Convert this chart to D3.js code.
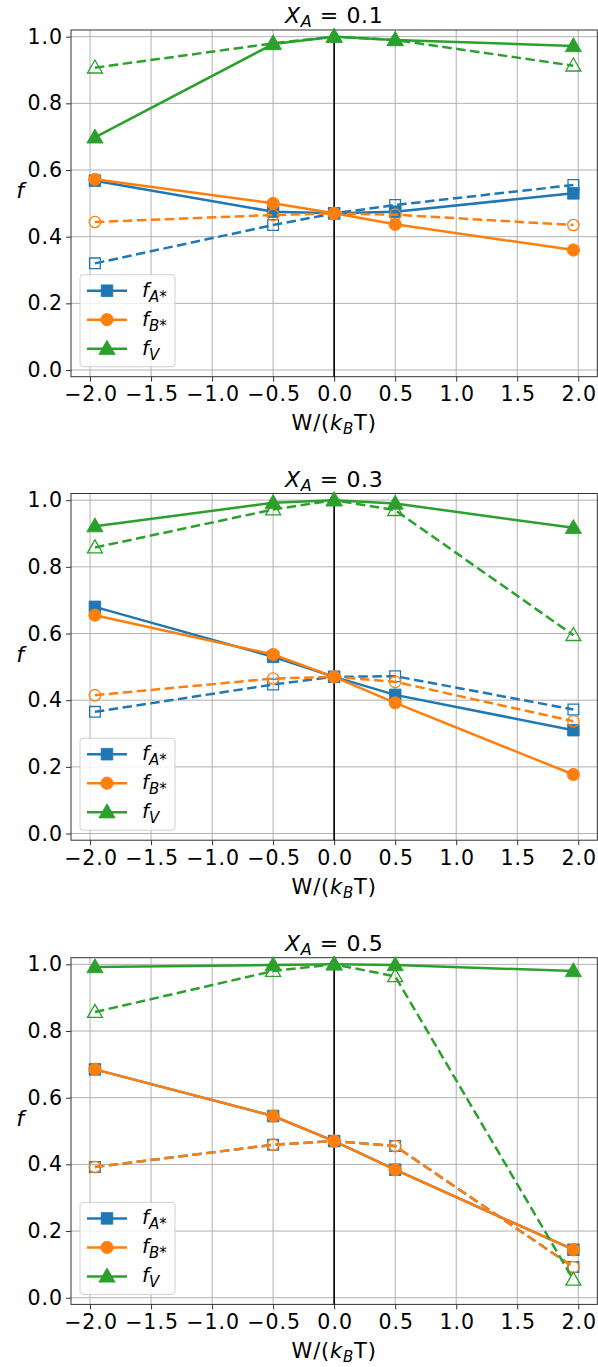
<!DOCTYPE html>
<html><head><meta charset="utf-8">
<script src="https://cdn.jsdelivr.net/npm/d3@7"></script>
<style>body{margin:0;background:#fff}svg{display:block;font-family:"DejaVu Sans",sans-serif}</style>
</head><body><svg id="c" width="598" height="1367"></svg>
<script>
const xValues = [-1.96, -0.5, 0, 0.5, 1.96];
const panelTitles = ["0.1", "0.3", "0.5"];
const xTicks = [-2.0, -1.5, -1.0, -0.5, 0.0, 0.5, 1.0, 1.5, 2.0];
const yTicks = [0.0, 0.2, 0.4, 0.6, 0.8, 1.0];

// Panel X_A = 0.1
const p1_A_solid = [0.568, 0.475, 0.47, 0.475, 0.53];
const p1_A_dash  = [0.32, 0.435, 0.47, 0.495, 0.555];
const p1_B_solid = [0.572, 0.50, 0.47, 0.437, 0.36];
const p1_B_dash  = [0.444, 0.465, 0.47, 0.466, 0.435];
const p1_V_solid = [0.698, 0.978, 1.0, 0.99, 0.972];
const p1_V_dash  = [0.907, 0.98, 1.0, 0.99, 0.913];
// Panel X_A = 0.3
const p2_A_solid = [0.68, 0.53, 0.47, 0.416, 0.31];
const p2_A_dash  = [0.365, 0.447, 0.47, 0.472, 0.372];
const p2_B_solid = [0.655, 0.537, 0.47, 0.392, 0.177];
const p2_B_dash  = [0.415, 0.465, 0.47, 0.455, 0.337];
const p2_V_solid = [0.922, 0.992, 1.0, 0.99, 0.917];
const p2_V_dash  = [0.858, 0.972, 1.0, 0.97, 0.595];
// Panel X_A = 0.5
const p3_A_solid = [0.685, 0.545, 0.47, 0.384, 0.144];
const p3_A_dash  = [0.392, 0.459, 0.47, 0.455, 0.092];
const p3_B_solid = [0.685, 0.545, 0.47, 0.384, 0.144];
const p3_B_dash  = [0.392, 0.459, 0.47, 0.455, 0.092];
const p3_V_solid = [0.992, 0.998, 1.0, 0.998, 0.98];
const p3_V_dash  = [0.857, 0.98, 1.0, 0.964, 0.054];

const panels = [
  {A:[p1_A_solid,p1_A_dash], B:[p1_B_solid,p1_B_dash], V:[p1_V_solid,p1_V_dash]},
  {A:[p2_A_solid,p2_A_dash], B:[p2_B_solid,p2_B_dash], V:[p2_V_solid,p2_V_dash]},
  {A:[p3_A_solid,p3_A_dash], B:[p3_B_solid,p3_B_dash], V:[p3_V_solid,p3_V_dash]}
];
const colors = {A:"#1f77b4", B:"#ff7f0e", V:"#2ca02c"};
const symbols = {A:d3.symbolSquare, B:d3.symbolCircle, V:d3.symbolTriangle};
const symSize = {A:135, B:120, V:115};

const svg = d3.select("#c");
const L = 71, R = 597.3, H = 346.7;
const tops = [30, 493.5, 957.7];
const x = d3.scaleLinear().domain([-2.156, 2.156]).range([L, R]);

tops.forEach((top, pi) => {
  const y = d3.scaleLinear().domain([-0.02, 1.02]).range([top + H, top]);
  const g = svg.append("g");
  // grid
  g.append("g").selectAll("line").data(xTicks).join("line")
    .attr("x1", d => x(d)).attr("x2", d => x(d)).attr("y1", top).attr("y2", top + H)
    .attr("stroke", "#b0b0b0").attr("stroke-width", 1);
  g.append("g").selectAll("line").data(yTicks).join("line")
    .attr("y1", d => y(d)).attr("y2", d => y(d)).attr("x1", L).attr("x2", R)
    .attr("stroke", "#b0b0b0").attr("stroke-width", 1);
  // axes
  const xa = g.append("g").attr("transform", `translate(0,${top + H})`)
    .call(d3.axisBottom(x).tickValues(xTicks).tickFormat(d => d3.format(".1f")(d).replace("-", "\u2212")).tickSize(5).tickPadding(5));
  const ya = g.append("g").attr("transform", `translate(${L},0)`)
    .call(d3.axisLeft(y).tickValues(yTicks).tickFormat(d3.format(".1f")).tickSize(5).tickPadding(4));
  [xa, ya].forEach(a => {
    a.select(".domain").remove();
    a.selectAll("text").attr("font-size", 20.5).attr("letter-spacing", 1).attr("fill", "#000").attr("font-family", "DejaVu Sans");
    a.selectAll("line").attr("stroke", "#333").attr("stroke-width", 1);
  });
  xa.selectAll("text").attr("dx", 0.5);
  ya.selectAll("text").attr("dx", 1);
  // frame
  g.append("rect").attr("x", L).attr("y", top).attr("width", R - L).attr("height", H)
    .attr("fill", "none").attr("stroke", "#333").attr("stroke-width", 1);
  // vertical zero line
  g.append("line").attr("x1", x(0)).attr("x2", x(0)).attr("y1", top).attr("y2", top + H)
    .attr("stroke", "#000").attr("stroke-width", 1.6);

  const line = d3.line().x((d, i) => x(xValues[i])).y(d => y(d));
  const p = panels[pi];
  ["A", "B", "V"].forEach(k => {
    [0, 1].forEach(s => {
      const vals = p[k][s];
      g.append("path").datum(vals).attr("d", line).attr("fill", "none")
        .attr("stroke", colors[k]).attr("stroke-width", 2.5)
        .attr("stroke-dasharray", s === 1 ? "9.5,4.5" : null);
      g.append("g").selectAll("path").data(vals).join("path")
        .attr("transform", (d, i) => `translate(${x(xValues[i])},${y(d) + (k === "V" ? 1 : 0)})`)
        .attr("d", d3.symbol().type(symbols[k]).size(s === 0 ? symSize[k] : symSize[k] * 0.85))
        .attr("fill", s === 0 ? colors[k] : "none")
        .attr("stroke", colors[k]).attr("stroke-width", s === 0 ? 0.8 : 1.3);
    });
  });

  // title
  const t = g.append("text").attr("x", (L + R) / 2).attr("y", top - 7).attr("text-anchor", "middle")
    .attr("font-size", 22).attr("letter-spacing", 0.6).attr("fill", "#000");
  t.append("tspan").attr("font-style", "italic").text("X");
  t.append("tspan").attr("font-style", "italic").attr("font-size", 16).attr("dy", 4).text("A");
  t.append("tspan").attr("dy", -4).text(" = " + panelTitles[pi]);

  // x label
  const xl = g.append("text").attr("x", (L + R) / 2).attr("y", top + H + 53.5).attr("text-anchor", "middle")
    .attr("font-size", 21).attr("letter-spacing", 0.8).attr("fill", "#000");
  xl.append("tspan").text("W/(");
  xl.append("tspan").attr("font-style", "italic").text("k");
  xl.append("tspan").attr("font-style", "italic").attr("font-size", 15).attr("dy", 4).text("B");
  xl.append("tspan").attr("dy", -4).text("T)");

  // y label
  g.append("text").attr("x", 20).attr("y", top + H / 2 - 5).attr("text-anchor", "middle")
    .attr("font-size", 22).attr("font-style", "italic").attr("fill", "#000").text("f");

  // legend
  const lg = g.append("g").attr("transform", `translate(80,${top + H - 102})`);
  lg.append("rect").attr("width", 95).attr("height", 92).attr("rx", 3)
    .attr("fill", "#fff").attr("fill-opacity", 0.8).attr("stroke", "#d0d0d0").attr("stroke-width", 1);
  const labels = {A:["A","*"], B:["B","*"], V:["V",""]};
  ["A", "B", "V"].forEach((k, i) => {
    const yy = 16 + i * 29;
    lg.append("line").attr("x1", 7).attr("x2", 47).attr("y1", yy).attr("y2", yy)
      .attr("stroke", colors[k]).attr("stroke-width", 2.5);
    lg.append("path").attr("transform", `translate(27,${yy + (k === "V" ? 1 : 0)})`)
      .attr("d", d3.symbol().type(symbols[k]).size(symSize[k])).attr("fill", colors[k])
      .attr("stroke", colors[k]).attr("stroke-width", 0.8);
    const tx = lg.append("text").attr("x", 62).attr("y", yy + 6).attr("font-size", 20).attr("fill", "#000");
    tx.append("tspan").attr("font-style", "italic").text("f");
    tx.append("tspan").attr("font-style", "italic").attr("font-size", 15).attr("dy", 5).text(labels[k][0]);
    if (labels[k][1]) tx.append("tspan").attr("font-size", 15).text(labels[k][1]);
  });
});
</script></body></html>
